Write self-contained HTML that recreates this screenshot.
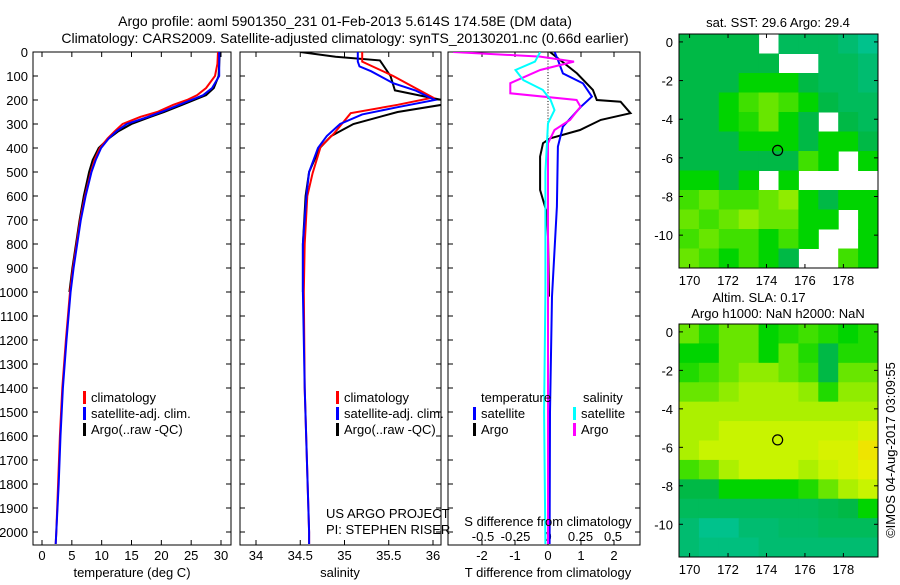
<!DOCTYPE html>
<html><head><meta charset="utf-8"><style>
body{margin:0;background:#fff;}
svg text{font-family:"Liberation Sans",sans-serif;fill:#000;}
</style></head><body>
<svg id="fig" width="900" height="580" xmlns="http://www.w3.org/2000/svg">
<defs>
<clipPath id="c1"><rect x="33" y="52" width="198" height="493"/></clipPath>
<clipPath id="c2"><rect x="240" y="52" width="201" height="493"/></clipPath>
<clipPath id="c3"><rect x="448" y="52" width="192" height="493"/></clipPath>
</defs>
<text x="345" y="26" font-size="14" text-anchor="middle">Argo profile: aoml 5901350_231 01-Feb-2013 5.614S 174.58E (DM data)</text>
<text x="345" y="43" font-size="14" text-anchor="middle">Climatology: CARS2009. Satellite-adjusted climatology: synTS_20130201.nc (0.66d earlier)</text>
<g id="g1"></g>
<g id="g2"></g>
<g id="g3"></g>
<g id="m1"></g>
<g id="m2"></g>
<text transform="translate(895,450) rotate(-90)" font-size="13" text-anchor="middle">©IMOS 04-Aug-2017 03:09:55</text>
</svg>
<script>
const depthTicks=[0,100,200,300,400,500,600,700,800,900,1000,1100,1200,1300,1400,1500,1600,1700,1800,1900,2000];
const tDepth=[0,50,100,150,180,200,220,250,270,300,330,360,400,450,500,600,700,800,900,1000,1200,1400,1600,1800,2000,2050];
const tClim=[29.5,29.4,29.0,27.5,26,24.3,22,19.3,16.5,13.5,12.2,11.0,9.7,8.8,8.2,7.2,6.4,5.8,5.2,4.7,4.0,3.4,3.0,2.7,2.4,2.3];
const tSat=[29.7,29.7,29.7,28.5,27,25,23,20,17.8,14.2,12.5,11.2,9.9,9.0,8.3,7.3,6.5,5.9,5.3,4.8,4.1,3.5,3.1,2.8,2.4,2.3];
const tArgoDepth=[0,50,100,150,180,200,220,250,270,300,330,360,400,450,500,600,700,800,900,1000];
const tArgo=[29.8,29.7,29.6,28.8,27.5,25.5,23.5,20.5,18.2,15,12.8,11.2,9.5,8.5,7.9,7.0,6.3,5.7,5.1,4.6];
const sClimDepth=[0,40,100,150,190,220,255,340,395,505,600,800,1000,1400,2000,2050];
const sClim=[35.2,35.2,35.55,35.8,36.0,35.6,35.07,34.88,34.73,34.64,34.58,34.55,34.54,34.55,34.6,34.6];
const sSatDepth=[0,40,60,80,110,130,160,200,230,260,300,350,400,500,600,800,1000,1400,2000,2050];
const sSat=[35.15,35.15,35.17,35.3,35.45,35.55,35.8,36.02,35.6,35.2,34.95,34.8,34.7,34.6,34.57,34.53,34.53,34.55,34.6,34.6];
const sArgoDepth=[0,20,35,100,160,185,200,220,250,300,350,400,500,600,800,1000];
const sArgo=[34.5,34.9,35.4,35.52,35.57,35.9,36.1,36.1,35.6,35.1,34.85,34.72,34.6,34.56,34.53,34.53];
const dTDepth=[0,33,89,131,186,228,311,394,644,1019,1500,2050];
const dTSat=[0.2,0.3,0.45,1.06,1.33,1.0,0.45,0.3,0.27,0.12,0.06,0.05];
const dTArgoDepth=[0,33,89,158,200,207,255,283,325,360,380,436,575,672,770,1019];
const dTArgo=[0.06,0.36,0.88,1.36,1.48,2.2,2.5,1.6,0.97,0.06,-0.15,-0.24,-0.24,-0.03,0.0,0.03];
const dSDepth=[0,19,40,75,130,172,200,228,283,325,380,700,1019,1500,2050];
const dSArgo=[-0.73,-0.06,0.2,-0.06,-0.29,-0.29,0.22,0.25,0.17,0.05,0,0,0,0,0];
const dSSatDepth=[0,40,75,117,158,200,242,297,500,1000,1500,2050];
const dSSat=[-0.06,-0.1,-0.25,-0.19,-0.04,0.02,0.05,0,-0.02,-0.02,-0.03,-0.02];
const tTicks=[0,5,10,15,20,25,30];
const sTicks=[34,34.5,35,35.5,36];
const dTTicks=[-2,-1,0,1,2];
const dSTicks=[-0.5,-0.25,0,0.25,0.5];
const lonTicks=[170,172,174,176,178];
const latTicks=[0,-2,-4,-6,-8,-10];
const sstGrid=[
[4,4,4,4,-1,3,3,3,2,1],
[4,4,4,4,4,-1,-1,3,3,2],
[4,4,4,5,5,5,4,3,3,2],
[4,4,5,6,6.5,6,5,4,3,3],
[4,4,5,5.5,6.5,5,4,-1,4,3],
[4,4,4,5,5,5,4,5,5,4],
[4,4,4,4,4,4,6,5,-1,5],
[5,5,4,5,-1,5,-1,-1,-1,-1],
[6,6.5,6,6,6.5,7,5,4,5,5],
[6.5,6,6.5,7,6.5,6.5,5,5,-1,5],
[6,6.5,6,6,5,6,5,-1,-1,5],
[6.5,6,5,6,5,4,-1,-1,6,5]];
const slaGrid=[
[6.5,5.5,6.5,6.5,5,5.5,6,5.5,5,5.5],
[5,5,6.5,6.5,5,6.5,5.5,4,5.5,5.5],
[5.5,6,6.5,7,7,6.5,6,4,6.5,6.5],
[6.5,6.5,7,7.5,7.5,7.5,7,5.5,7,7],
[7.5,7.5,7.5,7.5,7.5,7.5,7.5,7.5,7.5,7.5],
[7.5,7.5,8,8,8,8,8,8,8,8.5],
[7.5,8,8,8,8,8,8,8.5,8.5,9.5],
[6,6.5,7.5,8,8,8,7.5,8,8.5,9],
[4,4,5,5,5,5,5.5,6.5,7.5,8],
[3,3,3,3,3,3,3,3.5,4,5],
[2,1,1,2,2,2.5,2.5,3,3,3],
[2,1.5,1.5,1.5,2,2,2,2,2,2]];
const argoLon=174.58, argoLat=-5.614;

const NS="http://www.w3.org/2000/svg";
function mk(parent,tag,attrs,txt){const e=document.createElementNS(NS,tag);for(const k in attrs)e.setAttribute(k,attrs[k]);if(txt!==undefined)e.textContent=txt;parent.appendChild(e);return e;}
const Y0=52,Y1=545;
const yD=d=>52+d*0.24;
const xT=v=>42+v*5.967;
const xS=v=>256+(v-34)*88.5;
const xDT=v=>548+v*33;
const xDS=v=>548+v*130;

function frame(g,x0,x1){
  const r=mk(g,'rect',{x:x0,y:Y0,width:x1-x0,height:Y1-Y0,fill:'none',stroke:'#000','stroke-width':1});
  
  
  depthTicks.forEach(d=>{mk(g,'line',{x1:x0,x2:x0+5,y1:yD(d),y2:yD(d),stroke:'#000'});mk(g,'line',{x1:x1,x2:x1-5,y1:yD(d),y2:yD(d),stroke:'#000'});});
}
function xticks(g,ticks,fx,ly,labels){
  ticks.forEach(t=>{const x=fx(t);mk(g,'line',{x1:x,x2:x,y1:Y0,y2:Y0+5,stroke:'#000'});mk(g,'line',{x1:x,x2:x,y1:Y1,y2:Y1-5,stroke:'#000'});
    if(labels){const tx=mk(g,'text',{x:x,y:ly,'font-size':13,'text-anchor':'middle'},String(t));
      
      }});
}
function line(g,clip,ds,vs,fx,col,name){
  const p=ds.map((d,i)=>(i?'L':'M')+fx(vs[i]).toFixed(1)+','+yD(d).toFixed(1)).join('');
  const e=mk(g,'path',{d:p,fill:'none',stroke:col,'stroke-width':2,'clip-path':'url(#'+clip+')'});
  
  
}
function legend(g,x,y,col,label){
  mk(g,'rect',{x:x,y:y-11,width:3,height:13,fill:col});
  const t=mk(g,'text',{x:x+8,y:y,'font-size':13},label);
  
  
}
const g1=document.getElementById('g1');
frame(g1,33,231);
depthTicks.forEach(d=>{const t=mk(g1,'text',{x:28,y:yD(d)+5,'font-size':13,'text-anchor':'end'},String(d));
  
  });
xticks(g1,tTicks,xT,560,true);
line(g1,'c1',tArgoDepth,tArgo,xT,'#000','temperature-argo-line');
line(g1,'c1',tDepth,tClim,xT,'#f00','temperature-climatology-line');
line(g1,'c1',tDepth,tSat,xT,'#00f','temperature-satellite-line');
legend(g1,83,402,'#f00','climatology');legend(g1,83,418,'#00f','satellite-adj. clim.');legend(g1,83,434,'#000','Argo(..raw -QC)');
mk(g1,'text',{x:132,y:577,'font-size':13,'text-anchor':'middle'},'temperature (deg C)');
const g2=document.getElementById('g2');
frame(g2,240,441);
xticks(g2,sTicks,xS,560,true);
line(g2,'c2',sArgoDepth,sArgo,xS,'#000','salinity-argo-line');
line(g2,'c2',sClimDepth,sClim,xS,'#f00','salinity-climatology-line');
line(g2,'c2',sSatDepth,sSat,xS,'#00f','salinity-satellite-line');
legend(g2,336,402,'#f00','climatology');legend(g2,336,418,'#00f','satellite-adj. clim.');legend(g2,336,434,'#000','Argo(..raw -QC)');
mk(g2,'text',{x:326,y:518,'font-size':13},'US ARGO PROJECT');
mk(g2,'text',{x:326,y:534,'font-size':13},'PI: STEPHEN RISER');
mk(g2,'text',{x:340,y:577,'font-size':13,'text-anchor':'middle'},'salinity');
const g3=document.getElementById('g3');
frame(g3,448,640);
xticks(g3,dTTicks,xDT,560,true);
dSTicks.forEach(t=>{const tx=mk(g3,'text',{x:xDS(t),y:541,'font-size':13,'text-anchor':'middle'},String(t));
  
  });
for(let d=0;d<=2050;d+=12){mk(g3,'rect',{x:547.5,y:yD(d),width:1,height:1,fill:'#000'});}
line(g3,'c3',dTArgoDepth,dTArgo,xDT,'#000','t-diff-argo-line');
line(g3,'c3',dTDepth,dTSat,xDT,'#00f','t-diff-satellite-line');
line(g3,'c3',dSDepth,dSArgo,xDS,'#f0f','s-diff-argo-line');
line(g3,'c3',dSSatDepth,dSSat,xDS,'#0ff','s-diff-satellite-line');
mk(g3,'text',{x:481,y:402,'font-size':13},'temperature');
mk(g3,'text',{x:583,y:402,'font-size':13},'salinity');
legend(g3,473,418,'#00f','satellite');legend(g3,473,434,'#000','Argo');
legend(g3,573,418,'#0ff','satellite');legend(g3,573,434,'#f0f','Argo');
mk(g3,'text',{x:548,y:526,'font-size':13,'text-anchor':'middle'},'S difference from climatology');
mk(g3,'text',{x:548,y:577,'font-size':13,'text-anchor':'middle'},'T difference from climatology');
const stops=[[0,[0,200,168]],[2,[0,188,112]],[4,[0,185,70]],[5,[0,212,0]],[6,[64,224,0]],[7,[144,236,0]],[8,[200,244,0]],[9,[230,240,0]],[10,[248,216,0]]];
function cmap(v){for(let i=1;i<stops.length;i++){if(v<=stops[i][0]){const a=stops[i-1],b=stops[i],f=(v-a[0])/(b[0]-a[0]);return 'rgb('+a[1].map((c,j)=>Math.round(c+(b[1][j]-c)*f)).join(',')+')';}}return 'rgb(248,216,0)';}
function drawMap(g,grid,top,bottom,titles){
  const L=679,R=878,lon0=169.45,lon1=179.8,lat0=0.41,lat1=-11.7;
  const fx=lo=>L+(lo-lon0)/(lon1-lon0)*(R-L);
  const fy=la=>top+(lat0-la)/(lat0-lat1)*(bottom-top);
  const nr=grid.length,nc=grid[0].length,cw=(R-L)/nc,ch=(bottom-top)/nr;
  grid.forEach((row,i)=>row.forEach((v,j)=>{if(v<0)return;
    const c=mk(g,'rect',{x:(L+j*cw).toFixed(2),y:(top+i*ch).toFixed(2),width:(cw+0.5).toFixed(2),height:(ch+0.5).toFixed(2),fill:cmap(v)});
    
    }));
  mk(g,'rect',{x:L,y:top,width:R-L,height:bottom-top,fill:'none',stroke:'#000'});
  lonTicks.forEach(lo=>{const x=fx(lo);mk(g,'line',{x1:x,x2:x,y1:top,y2:top+4,stroke:'#000'});mk(g,'line',{x1:x,x2:x,y1:bottom,y2:bottom-4,stroke:'#000'});
    const t=mk(g,'text',{x:x,y:bottom+17,'font-size':13,'text-anchor':'middle'},String(lo));
    
    });
  latTicks.forEach(la=>{const y=fy(la);mk(g,'line',{x1:L,x2:L+4,y1:y,y2:y,stroke:'#000'});mk(g,'line',{x1:R,x2:R-4,y1:y,y2:y,stroke:'#000'});
    const t=mk(g,'text',{x:L-6,y:y+5,'font-size':13,'text-anchor':'end'},String(la));
    
    });
  const c=mk(g,'circle',{cx:fx(argoLon),cy:fy(argoLat),r:5,fill:'none',stroke:'#000','stroke-width':1.2});
  
  
  titles.forEach(t=>{const e=mk(g,'text',{x:t[0],y:t[1],'font-size':13,'text-anchor':'middle'},t[2]);
    
    });
}
drawMap(document.getElementById('m1'),sstGrid,34,268,[[778,27,'sat. SST: 29.6 Argo: 29.4']]);
drawMap(document.getElementById('m2'),slaGrid,324,557,[[759,302,'Altim. SLA: 0.17'],[778,318,'Argo h1000: NaN h2000: NaN']]);
</script>
</body></html>
